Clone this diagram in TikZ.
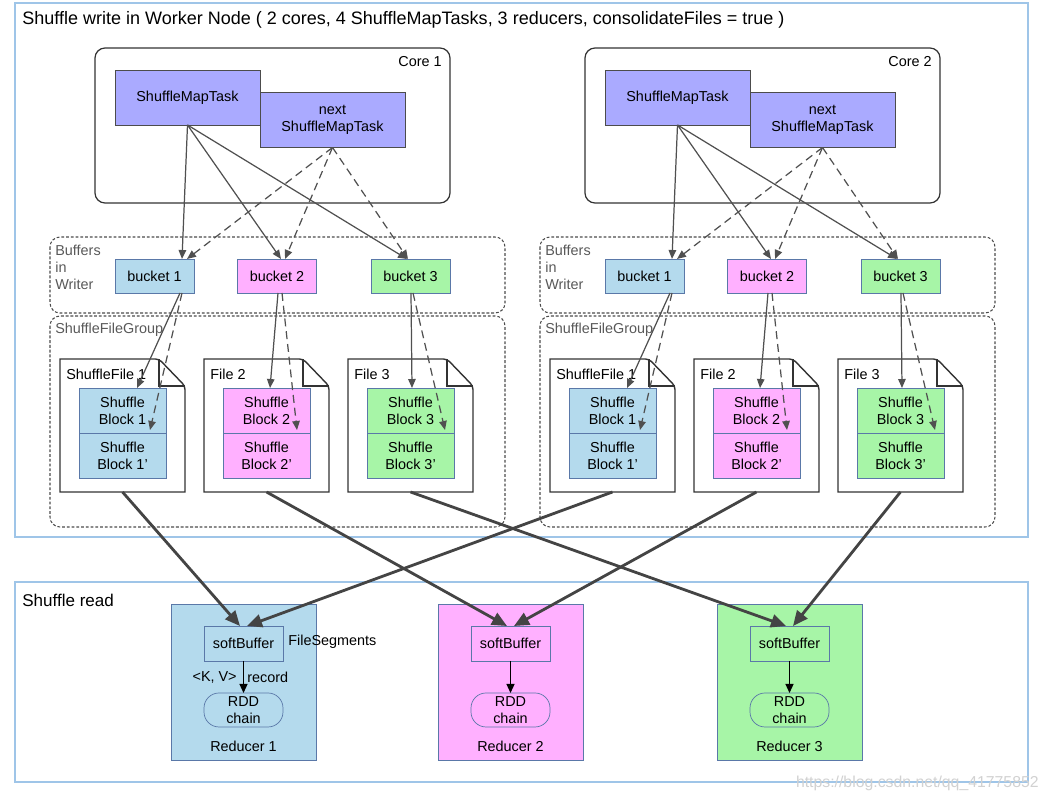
\documentclass[tikz,border=0pt]{standalone}
\usepackage{fontspec}
\setmainfont{Liberation Sans}
\usetikzlibrary{arrows.meta, positioning, calc}

\definecolor{frameblue}{HTML}{9FC5E8}
\definecolor{taskfill}{HTML}{AAAAFF}
\definecolor{bluefill}{HTML}{B4DAED}
\definecolor{pinkfill}{HTML}{FFB0FF}
\definecolor{greenfill}{HTML}{A7F5A7}
\definecolor{boxline}{HTML}{5A78A8}
\definecolor{arrowgray}{HTML}{505050}
\definecolor{thickgray}{HTML}{444444}

\begin{document}
\begin{tikzpicture}[
    x=0.02cm, y=-0.02cm,
    font=\fontsize{8.2}{9.6}\selectfont,
    wframe/.style={draw=frameblue, line width=0.6pt},
    corebox/.style={draw=black!80, rounded corners=0.2cm, line width=0.7pt},
    groupbox/.style={draw=black!70, dash pattern=on 1.6pt off 1.1pt, rounded corners=0.2cm, line width=0.6pt},
    taskbox/.style={rectangle, draw=black!70, fill=taskfill, minimum width=2.9cm, minimum height=1.1cm, inner sep=0pt, outer sep=0pt, align=center},
    bucketbox/.style={rectangle, draw=boxline, minimum width=1.58cm, minimum height=0.68cm, inner sep=0pt, outer sep=0pt},
    blockbox/.style={rectangle, draw=boxline, minimum width=1.74cm, minimum height=0.9cm, inner sep=0pt, outer sep=0pt, align=center},
    filebox/.style={rectangle, minimum width=2.5cm, minimum height=2.66cm, inner sep=0pt, outer sep=0pt},
    fileline/.style={draw=black!80, line width=0.8pt},
    redbox/.style={rectangle, draw=boxline, minimum width=2.9cm, minimum height=3.12cm, inner sep=0pt, outer sep=0pt},
    bufbox/.style={rectangle, draw=boxline, minimum width=1.58cm, minimum height=0.7cm, inner sep=0pt, outer sep=0pt},
    rddbox/.style={rectangle, draw=boxline, rounded corners=0.3cm, minimum width=1.58cm, minimum height=0.68cm, inner sep=0pt, outer sep=0pt, align=center},
    caption/.style={inner sep=0pt},
    greycap/.style={inner sep=0pt, text=black!65, align=left},
    bigcap/.style={inner sep=0pt, font=\fontsize{9.7}{11}\selectfont},
    feed/.style={draw=arrowgray, line width=0.7pt, -{Triangle[length=1.8mm, width=1.5mm]}},
    feeddash/.style={feed, dash pattern=on 4.5pt off 2.8pt},
    fetch/.style={draw=thickgray, line width=1.6pt, -{Triangle[length=3mm, width=2.6mm]}},
    record/.style={draw=black, line width=0.7pt, -{Triangle[length=1.8mm, width=1.6mm]}}
]
    \useasboundingbox (0,0) rectangle (1048,803);

    % shuffle write
    \draw[wframe] (15,3) rectangle (1028,537);
    \node[bigcap, anchor=west, font=\fontsize{10.25}{12}\selectfont] (wtitle) at (22,20) {Shuffle write in Worker Node ( 2 cores, 4 ShuffleMapTasks, 3 reducers, consolidateFiles = true )};

    \foreach \s/\dx/\n in {L/0/1, R/490/2} {
        \draw[corebox] (95+\dx,48) rectangle (450+\dx,203);
        \node[caption, anchor=east] (core\s) at (442+\dx,62) {Core \n};
        \node[taskbox] (smt\s) at (187.5+\dx,97.5) {ShuffleMapTask};
        \node[taskbox] (next\s) at (332.5+\dx,120) {next\\ShuffleMapTask};

        \draw[groupbox] (50+\dx,237) rectangle (505+\dx,313);
        \node[greycap, anchor=north west] (buf\s) at (55+\dx,245) {Buffers\\in\\Writer};
        \draw[groupbox] (50+\dx,316) rectangle (505+\dx,527);
        \node[greycap, anchor=west] (grp\s) at (55+\dx,330) {ShuffleFileGroup};

        \foreach \i/\bx/\col/\ftext in {1/154.5/bluefill/ShuffleFile 1, 2/277/pinkfill/File 2, 3/410.5/greenfill/File 3} {
            \node[bucketbox, fill=\col] (b\i\s) at (\bx+\dx,276) {bucket \i};
            \node[filebox] (f\i\s) at (122.5+144*\i-144+\dx,425.5) {};
            \draw[fileline] (f\i\s.south west) -- (f\i\s.north west) [rounded corners=2pt] -- ([xshift=-0.52cm]f\i\s.north east)
                -- ([yshift=-0.54cm]f\i\s.north east) [sharp corners] -- (f\i\s.south east) -- cycle;
            \draw[fileline] ([xshift=-0.52cm]f\i\s.north east) -- ([xshift=-0.52cm, yshift=-0.54cm]f\i\s.north east)
                -- ([yshift=-0.54cm]f\i\s.north east);
            \node[caption, anchor=west] (fl\i\s) at ([xshift=0.12cm, yshift=-0.3cm]f\i\s.north west) {\ftext};
            \node[blockbox, fill=\col] (blk\i\s) at ($(f\i\s.north)+(0,51.5)$) {Shuffle\\Block \i};
            \node[blockbox, fill=\col, below=0pt of blk\i\s] (blq\i\s) {Shuffle\\Block \i’};
        }

        % tasks to buckets, buckets to blocks
        \foreach \i/\ta/\tb/\sa/\sb/\ea/\eb in {1/27.5/32.5/25.5/27.5/14.5/27.5, 2/4/8/1/5/3.5/30.5, 3/-3.5/-2.5/0.5/2.5/1.5/34.5} {
            \draw[feed] (smt\s.south) -- ($(b\i\s.north)+(\ta,0)$);
            \draw[feeddash] (next\s.south) -- ($(b\i\s.north)+(\tb,0)$);
            \draw[feed] ($(b\i\s.south)+(\sa,0)$) -- ($(blk\i\s.north)+(\ea,0)$);
            \draw[feeddash] ($(b\i\s.south)+(\sb,0)$) -- ($(blq\i\s.north)+(\eb,-3)$);
        }
    }

    % shuffle read
    \draw[wframe] (15,582) rectangle (1028,782);
    \node[bigcap, anchor=west] (rtitle) at (22,600) {Shuffle read};

    \foreach \i/\rx/\col in {1/243.5/bluefill, 2/510.5/pinkfill, 3/789.5/greenfill} {
        \node[redbox, fill=\col] (red\i) at (\rx,682) {};
        \node[bufbox] (sb\i) at (\rx,643.5) {softBuffer};
        \node[rddbox, below=0.64cm of sb\i] (rdd\i) {RDD\\chain};
        \node[caption] (rl\i) at (\rx,746) {Reducer \i};
        \draw[record] (sb\i) -- (rdd\i);
    }
    \node[caption, anchor=west] (seg) at (288,642) {FileSegments};
    \node[caption, anchor=east] (kv) at (237,677) {<K, V>};
    \node[caption, anchor=west] (rec) at (247,677) {record};

    \foreach \i in {1,2,3} {
        \draw[fetch] (f\i L.south) -- ($(sb\i.north)+(-3.5,0)$);
        \draw[fetch] (f\i R.south) -- ($(sb\i.north)+(3.5,0)$);
    }

    \node[caption, anchor=east, text=black!18, font=\fontsize{9}{10}\selectfont] (mark) at (1039,783) {https://blog.csdn.net/qq\_41775852};
\end{tikzpicture}
\end{document}
